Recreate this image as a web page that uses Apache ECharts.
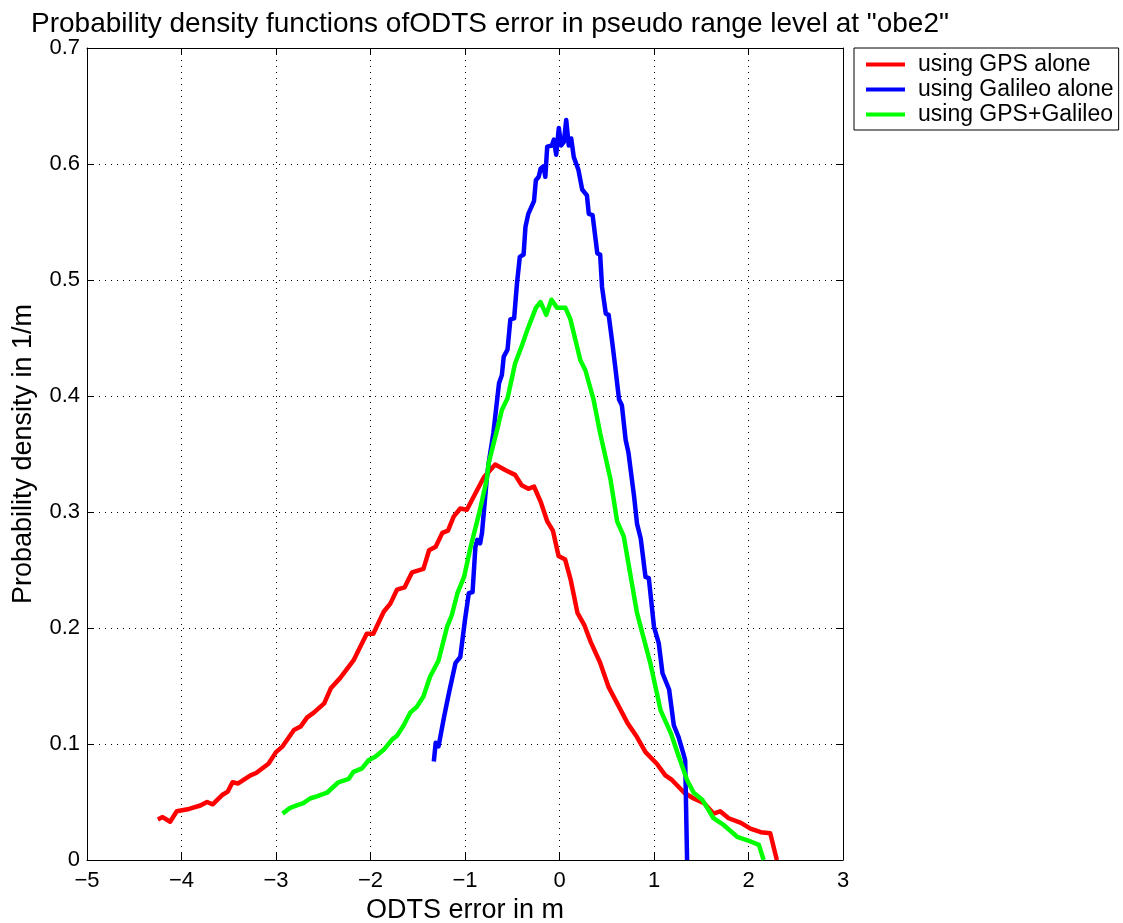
<!DOCTYPE html>
<html><head><meta charset="utf-8">
<script src="https://cdn.jsdelivr.net/npm/echarts@6/dist/echarts.min.js"></script>
<style>html,body{margin:0;padding:0;background:#fff}#c{width:1123px;height:923px}</style>
</head><body><div id="c"></div>
<script>
const titleText = 'Probability density functions ofODTS error in pseudo range level at "obe2"';
const seriesNames = ['using GPS alone', 'using Galileo alone', 'using GPS+Galileo'];
const xTicks = [-5, -4, -3, -2, -1, 0, 1, 2, 3];
const yTicks = [0, 0.1, 0.2, 0.3, 0.4, 0.5, 0.6, 0.7];

const gpsX = [-4.25,-4.20,-4.12,-4.05,-3.92,-3.80,-3.73,-3.67,-3.57,-3.51,-3.46,-3.40,-3.27,-3.21,-3.08,-3.00,-2.93,-2.81,-2.74,-2.67,-2.60,-2.49,-2.42,-2.32,-2.18,-2.04,-1.97,-1.86,-1.79,-1.72,-1.64,-1.56,-1.44,-1.38,-1.31,-1.24,-1.18,-1.12,-1.05,-0.98,-0.91,-0.80,-0.68,-0.57,-0.47,-0.40,-0.33,-0.27,-0.20,-0.13,-0.07,-0.01,0.06,0.12,0.19,0.26,0.33,0.43,0.52,0.63,0.72,0.82,0.91,1.03,1.12,1.19,1.32,1.42,1.53,1.63,1.70,1.79,1.92,2.02,2.13,2.23,2.30];
const gpsY = [0.035,0.037,0.033,0.042,0.044,0.047,0.050,0.048,0.056,0.059,0.067,0.066,0.073,0.075,0.083,0.093,0.098,0.112,0.115,0.123,0.127,0.135,0.148,0.157,0.172,0.195,0.195,0.214,0.221,0.233,0.235,0.248,0.251,0.267,0.270,0.282,0.284,0.296,0.303,0.302,0.313,0.330,0.341,0.336,0.332,0.323,0.320,0.322,0.309,0.292,0.284,0.262,0.259,0.241,0.213,0.203,0.188,0.170,0.149,0.132,0.118,0.106,0.093,0.083,0.073,0.069,0.058,0.053,0.049,0.040,0.042,0.036,0.032,0.027,0.024,0.023,0.0];

const galX = [-1.33,-1.31,-1.28,-1.22,-1.17,-1.10,-1.05,-1.00,-0.96,-0.92,-0.89,-0.87,-0.84,-0.82,-0.77,-0.75,-0.70,-0.64,-0.61,-0.59,-0.55,-0.52,-0.48,-0.45,-0.42,-0.38,-0.36,-0.33,-0.27,-0.25,-0.22,-0.20,-0.17,-0.15,-0.13,-0.08,-0.06,-0.035,-0.007,0.018,0.046,0.071,0.098,0.124,0.151,0.20,0.24,0.29,0.31,0.35,0.40,0.43,0.45,0.49,0.52,0.56,0.59,0.63,0.66,0.70,0.73,0.79,0.82,0.86,0.91,0.945,1.00,1.05,1.09,1.16,1.21,1.26,1.31,1.33,1.35];
const galY = [0.085,0.101,0.098,0.124,0.144,0.170,0.175,0.207,0.230,0.231,0.270,0.276,0.273,0.282,0.328,0.342,0.368,0.411,0.418,0.434,0.440,0.466,0.467,0.497,0.520,0.522,0.546,0.557,0.568,0.586,0.589,0.596,0.598,0.589,0.615,0.616,0.621,0.608,0.631,0.616,0.619,0.638,0.616,0.622,0.606,0.595,0.578,0.573,0.557,0.556,0.523,0.522,0.494,0.471,0.470,0.445,0.425,0.397,0.392,0.362,0.351,0.313,0.290,0.277,0.244,0.243,0.201,0.187,0.161,0.147,0.116,0.106,0.092,0.086,0.0];

const bothX = [-2.93,-2.85,-2.78,-2.71,-2.64,-2.56,-2.46,-2.34,-2.23,-2.18,-2.09,-2.02,-1.95,-1.86,-1.77,-1.72,-1.65,-1.58,-1.51,-1.44,-1.37,-1.28,-1.19,-1.14,-1.08,-1.01,-0.94,-0.85,-0.77,-0.75,-0.66,-0.61,-0.55,-0.47,-0.40,-0.34,-0.25,-0.20,-0.14,-0.085,-0.025,0.063,0.116,0.22,0.275,0.36,0.43,0.54,0.61,0.68,0.82,0.96,1.07,1.18,1.25,1.35,1.42,1.51,1.63,1.74,1.88,1.99,2.11,2.16];
const bothY = [0.040,0.045,0.047,0.049,0.053,0.055,0.058,0.067,0.070,0.076,0.079,0.086,0.089,0.095,0.104,0.107,0.116,0.127,0.132,0.141,0.158,0.172,0.201,0.211,0.230,0.244,0.270,0.299,0.328,0.342,0.371,0.388,0.398,0.428,0.443,0.457,0.476,0.481,0.470,0.483,0.476,0.476,0.466,0.431,0.422,0.397,0.368,0.328,0.292,0.279,0.213,0.170,0.129,0.109,0.092,0.069,0.058,0.052,0.036,0.030,0.020,0.017,0.013,0.0];

const seriesX = [gpsX, galX, bothX];
const seriesY = [gpsY, galY, bothY];
const colors = ['#ff0000', '#0000ff', '#00ff00'];

const FONT = 'Liberation Sans';
const fmtX = v => (v < 0 ? '\u2212' + Math.abs(v) : String(v));
const fmtY = v => (v === 0 ? '0' : v.toFixed(1));

const gridLine = { show: true, lineStyle: { color: '#000', width: 1, type: [1, 5] } };
const axisCommon = {
  type: 'value',
  axisLine: { show: true, onZero: false, lineStyle: { color: '#000', width: 1 } },
  axisTick: { show: true, inside: true, length: 7, lineStyle: { color: '#000' } },
};

const chart = echarts.init(document.getElementById('c'), null, { renderer: 'canvas' });
chart.setOption({
  animation: false,
  backgroundColor: '#fff',
  title: {
    text: titleText, left: 26, top: 5,
    textStyle: { fontFamily: FONT, fontSize: 28, fontWeight: 'normal', color: '#000' }
  },
  legend: {
    orient: 'vertical', left: 854, top: 48,
    data: seriesNames,
    icon: 'rect', itemWidth: 39, itemHeight: 4, itemGap: 0,
    backgroundColor: '#fff', borderColor: '#000', borderWidth: 1, borderRadius: 0,
    padding: [4, 5, 3, 12],
    textStyle: { fontFamily: FONT, fontSize: 23, color: '#000', lineHeight: 25, padding: [0, 0, 0, 8] }
  },
  grid: { left: 87, right: 1123 - 843, top: 48, bottom: 923 - 860, containLabel: false, outerBoundsMode: 'none' },
  xAxis: [
    Object.assign({}, axisCommon, {
      position: 'bottom', min: -5, max: 3, interval: 1,
      splitLine: gridLine,
      axisLabel: { formatter: fmtX, fontFamily: FONT, fontSize: 22, color: '#000', margin: 10 },
      name: 'ODTS error in m', nameLocation: 'middle', nameGap: 37,
      nameTextStyle: { fontFamily: FONT, fontSize: 27, color: '#000' }
    }),
    Object.assign({}, axisCommon, {
      position: 'top', min: -5, max: 3, interval: 1,
      splitLine: { show: false }, axisLabel: { show: false }
    })
  ],
  yAxis: [
    Object.assign({}, axisCommon, {
      position: 'left', min: 0, max: 0.7, interval: 0.1,
      splitLine: gridLine,
      axisLabel: { formatter: fmtY, fontFamily: FONT, fontSize: 22, color: '#000', margin: 7 },
      name: 'Probability density in 1/m', nameLocation: 'middle', nameGap: 50, nameRotate: 90,
      nameTextStyle: { fontFamily: FONT, fontSize: 27, color: '#000' }
    }),
    Object.assign({}, axisCommon, {
      position: 'right', min: 0, max: 0.7, interval: 0.1,
      splitLine: { show: false }, axisLabel: { show: false }
    })
  ],
  series: seriesNames.map((name, i) => ({
    name, type: 'line', xAxisIndex: 0, yAxisIndex: 0,
    data: seriesX[i].map((x, j) => [x, seriesY[i][j]]),
    showSymbol: false, symbol: 'none',
    lineStyle: { color: colors[i], width: 4.5, join: 'round' },
    itemStyle: { color: colors[i] },
    z: 2 + i
  }))
});
</script></body></html>
